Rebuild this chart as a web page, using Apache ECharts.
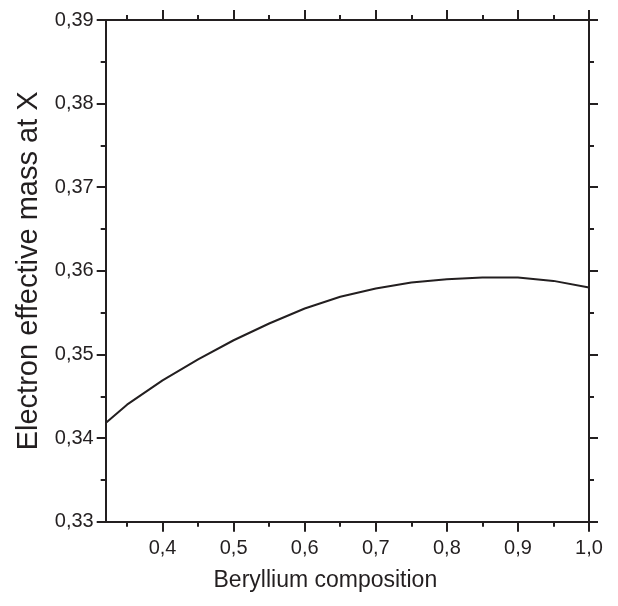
<!DOCTYPE html>
<html>
<head>
<meta charset="utf-8">
<script src="https://cdn.jsdelivr.net/npm/echarts@6/dist/echarts.min.js"></script>
<style>
html,body{margin:0;padding:0;background:#fff;}
#chart{width:618px;height:606px;}
</style>
</head>
<body>
<div id="chart"></div>
<script>
// Data
const composition = [0.32, 0.35, 0.40, 0.45, 0.50, 0.55, 0.60, 0.65, 0.70, 0.75, 0.80, 0.85, 0.90, 0.95, 1.00];
const effMass     = [0.3418, 0.3440, 0.3469, 0.3494, 0.3517, 0.3537, 0.3555, 0.3569, 0.3579, 0.3586, 0.3590, 0.3592, 0.3592, 0.3588, 0.3580];
const xMajorTicks = [0.4, 0.5, 0.6, 0.7, 0.8, 0.9, 1.0];
const xMinorTicks = [0.35, 0.45, 0.55, 0.65, 0.75, 0.85, 0.95];
const xRange = [0.32, 1.0];
const yRange = [0.33, 0.39];
const yStep = 0.01;
const xTitle = 'Beryllium composition';
const yTitle = 'Electron effective mass at X';

const ink = '#231f20';
const font = '"Liberation Sans", Arial, Helvetica, sans-serif';
const comma = (d) => (v) => Number(v).toFixed(d).replace('.', ',');

function xAxisDef(pos, ticks, len, labels, name) {
  return {
    type: 'value', position: pos, min: xRange[0], max: xRange[1],
    axisLine: { show: true, onZero: false, lineStyle: { color: ink, width: 2 } },
    axisTick: { show: true, customValues: ticks, length: len, lineStyle: { color: ink, width: 2 } },
    axisLabel: labels ? { show: true, customValues: ticks, formatter: comma(1), color: ink,
      fontFamily: font, fontSize: 20, margin: 17 } : { show: false },
    splitLine: { show: false },
    name: name || '', nameLocation: 'middle', nameGap: 47,
    nameTextStyle: { fontFamily: font, fontSize: 23, color: ink, padding: [0, 44, 0, 0] }
  };
}
function yAxisDef(pos, labels, name) {
  return {
    type: 'value', position: pos, min: yRange[0], max: yRange[1], interval: yStep,
    axisLine: { show: true, onZero: false, lineStyle: { color: ink, width: 2 } },
    axisTick: { show: true, length: 9, lineStyle: { color: ink, width: 2 } },
    minorTick: { show: true, splitNumber: 2, length: 5, lineStyle: { color: ink, width: 2 } },
    axisLabel: labels ? { show: true, formatter: comma(2), color: ink, fontFamily: font,
      fontSize: 20, margin: 12 } : { show: false },
    splitLine: { show: false }, minorSplitLine: { show: false },
    name: name || '', nameLocation: 'middle', nameGap: 60,
    nameTextStyle: { fontFamily: font, fontSize: 29, color: ink }
  };
}

const chart = echarts.init(document.getElementById('chart'), null, { renderer: 'canvas' });
chart.setOption({
  backgroundColor: '#fff',
  animation: false,
  grid: { left: 105.7, right: 29, top: 20, bottom: 84.3, containLabel: false },
  xAxis: [
    xAxisDef('bottom', xMajorTicks, 10, true, xTitle),
    xAxisDef('bottom', xMinorTicks, 5, false),
    xAxisDef('top', xMajorTicks, 10, false),
    xAxisDef('top', xMinorTicks, 5, false)
  ],
  yAxis: [
    yAxisDef('left', true, yTitle),
    yAxisDef('right', false)
  ],
  series: [{
    type: 'line', xAxisIndex: 0, yAxisIndex: 0,
    data: composition.map((x, i) => [x, effMass[i]]),
    showSymbol: false, smooth: false,
    lineStyle: { color: ink, width: 2 }
  }]
});
</script>
</body>
</html>
